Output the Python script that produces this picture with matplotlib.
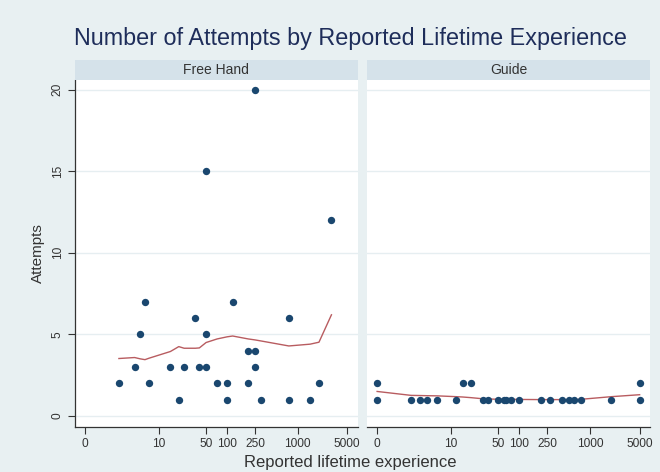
import numpy as np
import matplotlib
matplotlib.use('Agg')
import matplotlib.pyplot as plt

plt.rcParams['font.family'] = ['Liberation Sans', 'DejaVu Sans']

# Free Hand panel: reported lifetime experience vs attempts
free_x = [2, 4, 5, 6, 7, 15, 20, 24, 35, 40, 50, 50, 50, 72, 100, 100, 120,
          200, 200, 250, 250, 250, 300, 750, 750, 1500, 2000, 3000]
free_y = [2, 3, 5, 7, 2, 3, 1, 3, 6, 3, 3, 5, 15, 2, 2, 1, 7,
          4, 2, 4, 3, 20, 1, 6, 1, 1, 2, 12]
# lowess smooth
free_sx = [2, 4, 5, 6, 7, 15, 20, 24, 35, 40, 50, 72, 100, 120, 200, 250, 300,
           750, 1500, 2000, 3000]
free_sy = [3.52, 3.58, 3.5, 3.45, 3.54, 3.95, 4.25, 4.15, 4.15, 4.17, 4.5, 4.72,
           4.85, 4.9, 4.72, 4.66, 4.6, 4.29, 4.4, 4.52, 6.2]

# Guide panel
guide_x = [0, 0, 2, 3, 4, 6, 12, 15, 20, 30, 35, 50, 60, 65, 75, 100, 200, 270,
           400, 500, 600, 750, 2000, 5000, 5000]
guide_y = [2, 1, 1, 1, 1, 1, 1, 2, 2, 1, 1, 1, 1, 1, 1, 1, 1, 1,
           1, 1, 1, 1, 1, 2, 1]
guide_sx = [0, 2, 3, 4, 6, 12, 15, 20, 30, 35, 50, 60, 65, 75, 100, 200, 270,
            400, 500, 600, 750, 2000, 5000]
guide_sy = [1.5, 1.26, 1.25, 1.24, 1.23, 1.18, 1.16, 1.12, 1.05, 1.04, 1.02, 1.02,
            1.02, 1.02, 1.01, 1.0, 1.0, 1.0, 1.0, 1.0, 1.02, 1.18, 1.3]

xticks = [0, 10, 50, 100, 250, 1000, 5000]
yticks = [0, 5, 10, 15, 20]

bg = '#e8f0f2'
strip_c = '#d5e2ea'
dot = '#1a476f'
line_c = '#b85c60'
txt = '#333333'

W, H = 660, 472
fig = plt.figure(figsize=(W / 100, H / 100), dpi=100, facecolor=bg)


def box(x0, y0, x1, y1):
    return [x0 / W, 1 - y1 / H, (x1 - x0) / W, (y1 - y0) / H]


fwd = lambda v: np.log10(np.asarray(v, dtype=float) + 1)
inv = lambda v: 10 ** np.asarray(v, dtype=float) - 1

panels = [
    ('Free Hand', free_x, free_y, free_sx, free_sy, 75, 357.5),
    ('Guide', guide_x, guide_y, guide_sx, guide_sy, 367, 650),
]

for i, (name, xs, ys, sx, sy, x0, x1) in enumerate(panels):
    ax = fig.add_axes(box(x0, 80, x1, 427))
    ax.set_facecolor('white')
    ax.set_xscale('function', functions=(fwd, inv))
    ax.set_xlim(-0.28, 7000)
    ax.set_ylim(-0.68, 20.6)
    for yv in yticks:
        ax.axhline(yv, color='#e6eef1', lw=1, zorder=0)
    ax.plot(sx, sy, color=line_c, lw=1, zorder=2)
    ax.plot(xs, ys, 'o', color=dot, ms=5.3, mec='none', zorder=3)
    ax.set_xticks(xticks)
    ax.set_xticklabels([str(t) for t in xticks], fontsize=8.6, color=txt)
    ax.minorticks_off()
    ax.tick_params(axis='x', length=5, width=0.8, color='#333333', pad=3)
    for s in ('top', 'right'):
        ax.spines[s].set_visible(False)
    ax.spines['bottom'].set_color('#333333')
    ax.spines['bottom'].set_linewidth(0.9)
    if i == 0:
        ax.set_yticks(yticks)
        ax.set_yticklabels([str(t) for t in yticks], fontsize=8.6, color=txt,
                           rotation=90, va='center')
        ax.tick_params(axis='y', length=5, width=0.8, color='#333333', pad=3)
        ax.spines['left'].set_color('#333333')
        ax.spines['left'].set_linewidth(0.9)
        ax.set_ylabel('Attempts', fontsize=11, color=txt, labelpad=5)
    else:
        ax.set_yticks([])
        ax.spines['left'].set_visible(False)

    sax = fig.add_axes(box(x0, 60, x1, 80))
    sax.set_facecolor(strip_c)
    sax.set_xticks([])
    sax.set_yticks([])
    for s in sax.spines.values():
        s.set_visible(False)
    sax.text(0.5, 0.5, name, ha='center', va='center', fontsize=10,
             color=txt, transform=sax.transAxes)

fig.text(350 / W, 1 - 38 / H, 'Number of Attempts by Reported Lifetime Experience',
         ha='center', va='center', fontsize=16.8, color='#1e2d5a')
fig.text(350 / W, 1 - 463 / H, 'Reported lifetime experience',
         ha='center', va='center', fontsize=12, color=txt)

fig.savefig('out.png', dpi=100, facecolor=bg)
